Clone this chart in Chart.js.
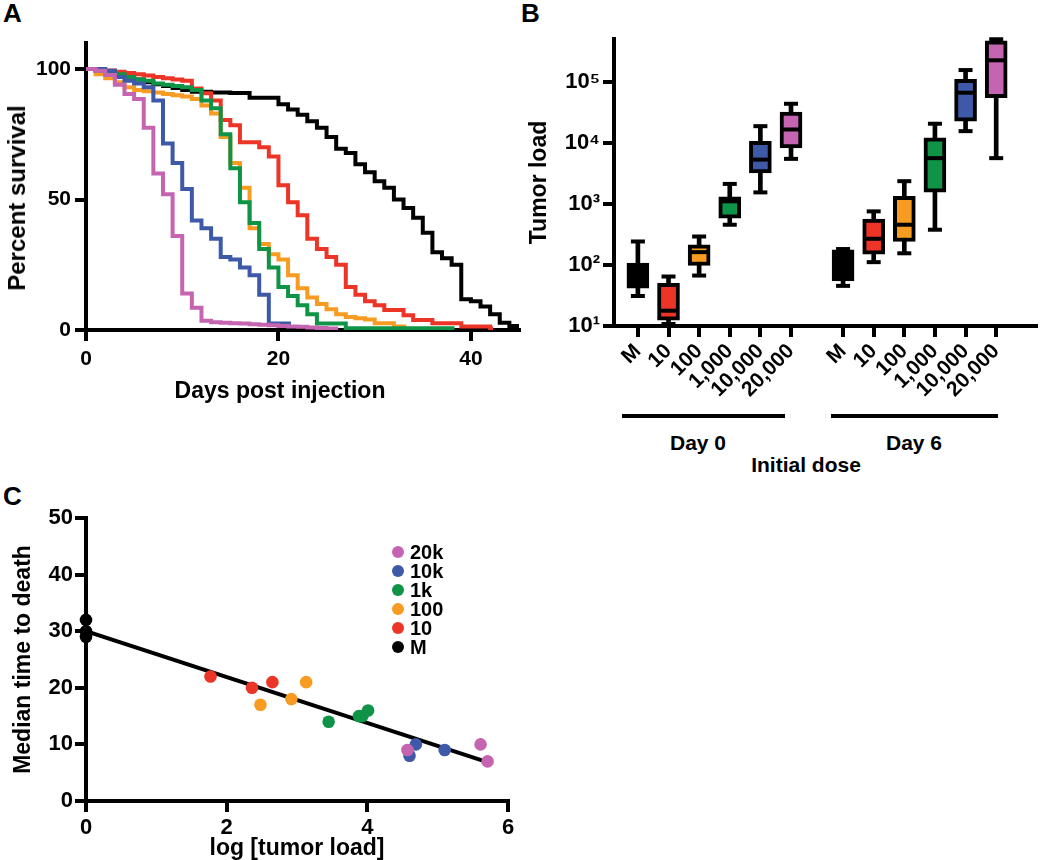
<!DOCTYPE html>
<html>
<head>
<meta charset="utf-8">
<script src="https://cdn.jsdelivr.net/npm/chart.js@4.4.0/dist/chart.umd.min.js"></script>
<style>
body { margin: 0; background: #fff; width: 1050px; height: 860px; position: relative; overflow: hidden;
       font-family: "Liberation Sans", Arial, Helvetica, sans-serif; font-weight: bold; color: #000; }
canvas { position: absolute; }
.lbl { position: absolute; line-height: 1; white-space: nowrap; }
.mid { transform: translate(-50%, -50%); }
.rot { transform: translate(-50%, -50%) rotate(-90deg); }
.bar { position: absolute; background: #000; height: 4px; }
.dot { position: absolute; width: 12px; height: 12px; border-radius: 50%; transform: translate(-50%, -50%); }
</style>
</head>
<body>
<div class="lbl" style="left:3px;top:0px;font-size:26px">A</div>
<div class="lbl" style="left:521px;top:0px;font-size:26px">B</div>
<div class="lbl" style="left:3px;top:483px;font-size:26px">C</div>

<canvas id="chartA" width="530" height="410" style="left:0;top:0"></canvas>
<canvas id="chartB" width="530" height="410" style="left:520px;top:0"></canvas>
<canvas id="chartC" width="530" height="370" style="left:0;top:490px"></canvas>

<!-- titres du panneau A, centres comme dans la figure d'origine -->
<div class="lbl rot" style="left:17px;top:198px;font-size:24px">Percent survival</div>
<div class="lbl mid" style="left:280px;top:390px;font-size:23px">Days post injection</div>

<div class="bar" style="left:622px;top:414px;width:163px"></div>
<div class="bar" style="left:831px;top:414px;width:167px"></div>
<div class="lbl mid" style="left:698px;top:442px;font-size:21px">Day 0</div>
<div class="lbl mid" style="left:914px;top:442px;font-size:21px">Day 6</div>
<div class="lbl mid" style="left:806px;top:464px;font-size:21px">Initial dose</div>
<div id="legendC"></div>

<script>
// couleurs des groupes
const black = '#000000';
const red = '#ec3526';
const orange = '#f89b22';
const green = '#0f9447';
const blue = '#3d59a8';
const mag = '#c564b1';

// --- A : survie (valeur apres les deces du jour i) ---
const dayTicks = [0, 20, 40];
const survTicks = [0, 50, 100];
const survMag = [100, 99.4, 97.7, 94, 90.5, 88.5, 77.5, 60, 52, 36, 14, 8.5, 3.5, 3, 2.8, 2.6, 2.5, 2.2, 2, 1.8, 1.5, 1.3, 1.2, 1, 0.8, 0.6, 0];
const survBlue = [100, 100, 99.4, 97, 95.5, 94.5, 93, 88, 71.5, 64, 54, 42, 39, 35, 28, 27, 24, 21, 13.5, 2.5, 2.5, 2.5];
const survGreen = [100, 99.5, 99, 98, 97, 96, 95.5, 94.5, 94, 93.5, 93, 92, 88, 85, 75, 62, 49, 41, 31, 24, 16.5, 13, 9.5, 6, 2.5, 2.5, 2.5, 0.7];
const survOrange = [100, 98, 96.5, 95, 93, 92, 91.5, 91, 90.5, 90, 89.5, 88.5, 86, 83, 74, 64, 54.5, 39, 33, 29, 27, 21, 16, 12.5, 10, 8, 6, 5, 4.5, 4, 2.6, 2.6, 1.3];
const survRed = [100, 99.5, 99.5, 99, 98.5, 98, 97.5, 97, 96.5, 96, 95.5, 92.6, 90.7, 88, 80.5, 78.5, 72, 72, 70, 66.5, 55.5, 49, 44, 35, 31, 28, 25, 16.5, 13.5, 11, 9.5, 7.7, 7.7, 5.7, 3.8, 3.8, 2.6, 2.6, 2.6, 1.3, 1.3, 1.3, 0.6];
const survM = [100, 99.5, 98.8, 98, 97, 96, 95, 94.2, 93.5, 92.8, 92, 91.3, 91.3, 91, 91, 90.8, 90.8, 89, 89, 89, 86.5, 84.5, 82.5, 80, 77.5, 74, 69.5, 67.8, 63.5, 60.5, 57, 54.5, 50, 46.8, 43, 37.3, 29.8, 27.5, 25, 11.8, 11, 9, 6, 2.8, 1.5];
const lastDay = { mag: null, blue: 21.3, green: 38.3, orange: 33.3, red: 42.3, M: 45 };

// --- B : charge tumorale (boites) ---
const posB = [1, 2, 3, 4, 5, 6, 7.7, 8.7, 9.7, 10.7, 11.7, 12.7];
const labelsB = ['M', '10', '100', '1,000', '10,000', '20,000', 'M', '10', '100', '1,000', '10,000', '20,000'];
const loadTicks = [10, 100, 1000, 10000, 100000];
const whiskLo = [31, 10.8, 67, 455, 1540, 5450, 45.4, 111, 155, 377, 15500, 5600];
const boxQ1 = [41.5, 12.5, 98, 585, 3200, 8260, 54.8, 150, 242, 1560, 22600, 54600];
const boxMed = [65, 17.8, 162, 1100, 5300, 16500, 100, 268, 455, 5600, 66000, 224000];
const boxQ3 = [107, 50, 213, 1300, 10600, 31800, 177, 563, 1330, 12000, 109000, 468000];
const whiskHi = [242, 64.6, 292, 2120, 18700, 43500, 182, 753, 2350, 20500, 155000, 495000];
const colorsB = [black, red, orange, green, blue, mag, black, red, orange, green, blue, mag];

// --- C : temps median vs log charge ---
const legendC = ['20k', '10k', '1k', '100', '10', 'M'];
const colorsC = [mag, blue, green, orange, red, black];
const logLoad = [
  [4.57, 5.61, 5.71],
  [4.60, 4.69, 5.10],
  [3.45, 3.88, 3.93, 4.01],
  [2.48, 2.92, 3.13],
  [1.77, 2.36, 2.65],
  [0, 0, 0]
];
const medianDeath = [
  [9, 10, 7],
  [8, 10, 9],
  [14, 15, 15, 16],
  [17, 18, 21],
  [22, 20, 21],
  [32, 30, 29]
];
const fitX = [0, 5.75];
const fitY = [30, 6.7];

Chart.defaults.font.family = '"Liberation Sans", Arial, Helvetica, sans-serif';
Chart.defaults.font.weight = 'bold';
Chart.defaults.color = '#000';

const gridOpts = { drawOnChartArea: false, drawTicks: true, tickLength: 11, tickWidth: 4,
                   tickColor: '#000', color: '#000', lineWidth: 4 };
const borderOpts = { display: true, color: '#000', width: 4 };
const noPlugins = { legend: { display: false }, tooltip: { enabled: false } };

function kmPoints(vals, end) {
  const pts = vals.map((v, d) => ({ x: d, y: v }));
  if (end !== null) pts.push({ x: end, y: vals[vals.length - 1] });
  return pts;
}

const seriesA = [
  { vals: survMag, end: lastDay.mag, color: mag },
  { vals: survBlue, end: lastDay.blue, color: blue },
  { vals: survGreen, end: lastDay.green, color: green },
  { vals: survOrange, end: lastDay.orange, color: orange },
  { vals: survRed, end: lastDay.red, color: red },
  { vals: survM, end: lastDay.M, color: black }
];

new Chart(document.getElementById('chartA'), {
  type: 'line',
  data: {
    datasets: seriesA.map(s => ({
      data: kmPoints(s.vals, s.end),
      borderColor: s.color,
      borderWidth: 4,
      stepped: true,
      pointRadius: 0,
      fill: false,
      borderJoinStyle: 'miter',
      borderCapStyle: 'butt'
    }))
  },
  options: {
    responsive: false,
    animation: false,
    events: [],
    layout: { padding: { top: 43, right: 11, left: 0, bottom: 0 } },
    plugins: noPlugins,
    scales: {
      x: {
        type: 'linear', min: 0, max: 45,
        afterBuildTicks: ax => { ax.ticks = dayTicks.map(v => ({ value: v })); },
        afterFit: ax => { ax.height = 80; },
        grid: gridOpts, border: borderOpts,
        ticks: { font: { size: 21 }, padding: 6, maxRotation: 0 }
      },
      y: {
        type: 'linear', min: 0, max: 110,
        afterBuildTicks: ax => { ax.ticks = survTicks.map(v => ({ value: v })); },
        afterFit: ax => { ax.width = 86; },
        grid: gridOpts, border: borderOpts,
        ticks: { font: { size: 21 }, padding: 4 }
      }
    }
  }
});

const sup = ['\u2070', '\u00b9', '\u00b2', '\u00b3', '\u2074', '\u2075'];

new Chart(document.getElementById('chartB'), {
  type: 'bar',
  data: {
    datasets: [
      {
        type: 'scatter', order: 0, clip: false,
        data: posB.map((x, i) => ({ x: x, y: boxMed[i] })),
        pointStyle: 'line', pointRadius: 10, pointBorderWidth: 4,
        pointBorderColor: '#000', pointBackgroundColor: '#000', borderColor: '#000'
      },
      {
        type: 'scatter', order: 0, clip: false,
        data: posB.map((x, i) => ({ x: x, y: whiskLo[i] })).concat(posB.map((x, i) => ({ x: x, y: whiskHi[i] }))),
        pointStyle: 'line', pointRadius: 7, pointBorderWidth: 4,
        pointBorderColor: '#000', pointBackgroundColor: '#000', borderColor: '#000'
      },
      {
        type: 'bar', order: 1, grouped: false,
        data: posB.map((x, i) => ({ x: x, y: [boxQ1[i], boxQ3[i]] })),
        backgroundColor: colorsB, borderColor: '#000', borderWidth: 4,
        borderSkipped: false, barThickness: 22
      },
      {
        type: 'bar', order: 2, grouped: false,
        data: posB.map((x, i) => ({ x: x, y: [whiskLo[i], whiskHi[i]] })),
        backgroundColor: '#000', borderWidth: 0, barThickness: 4
      }
    ]
  },
  options: {
    responsive: false,
    animation: false,
    events: [],
    layout: { padding: { top: 39, right: 4, left: 0, bottom: 0 } },
    plugins: noPlugins,
    scales: {
      x: {
        type: 'linear', min: 0.22, max: 14, offset: false,
        afterBuildTicks: ax => { ax.ticks = posB.map(v => ({ value: v })); },
        afterFit: ax => { ax.height = 84; },
        grid: Object.assign({}, gridOpts, { offset: false }), border: borderOpts,
        ticks: { font: { size: 21 }, padding: 2, autoSkip: false, maxRotation: 45, minRotation: 45,
                 callback: (v, i) => labelsB[i] }
      },
      y: {
        type: 'logarithmic', min: 10, max: 500000,
        afterBuildTicks: ax => { ax.ticks = loadTicks.map(v => ({ value: v })); },
        afterFit: ax => { ax.width = 94; },
        grid: gridOpts, border: borderOpts,
        ticks: { font: { size: 22 }, padding: 3,
                 callback: v => '10' + sup[Math.round(Math.log10(v))] },
        title: { display: true, text: 'Tumor load', font: { size: 23 }, padding: { top: 6, bottom: 0 } }
      }
    }
  }
});

const datasetsC = legendC.map((name, g) => ({
  type: 'scatter', label: name, clip: false,
  data: logLoad[g].map((x, i) => ({ x: x, y: medianDeath[g][i] })),
  pointRadius: 6.3, pointBorderWidth: 0,
  pointBackgroundColor: colorsC[g], backgroundColor: colorsC[g], borderColor: colorsC[g]
}));
datasetsC.push({
  type: 'line', label: 'fit',
  data: fitX.map((x, i) => ({ x: x, y: fitY[i] })),
  borderColor: '#000', borderWidth: 4, pointRadius: 0, fill: false
});

new Chart(document.getElementById('chartC'), {
  type: 'scatter',
  data: { datasets: datasetsC },
  options: {
    responsive: false,
    animation: false,
    events: [],
    layout: { padding: { top: 28, right: 22, left: 0, bottom: 0 } },
    plugins: noPlugins,
    scales: {
      x: {
        type: 'linear', min: 0, max: 6,
        afterFit: ax => { ax.height = 59; },
        grid: gridOpts, border: borderOpts,
        ticks: { font: { size: 22 }, padding: 3, stepSize: 2, maxRotation: 0 },
        title: { display: true, text: 'log [tumor load]', font: { size: 23, lineHeight: 1 }, padding: { top: 0, bottom: 0 } }
      },
      y: {
        type: 'linear', min: 0, max: 50,
        afterFit: ax => { ax.width = 86; },
        grid: gridOpts, border: borderOpts,
        ticks: { font: { size: 22 }, padding: 2, stepSize: 10 },
        title: { display: true, text: 'Median time to death', font: { size: 23 }, padding: { top: 10, bottom: 0 } }
      }
    }
  }
});

// legende C en HTML, dans la zone du graphique
const legendY = [552, 571, 590, 609, 628, 647];
const leg = document.getElementById('legendC');
legendC.forEach((name, g) => {
  const d = document.createElement('div');
  d.className = 'dot';
  d.style.left = '398px';
  d.style.top = legendY[g] + 'px';
  d.style.background = colorsC[g];
  leg.appendChild(d);
  const t = document.createElement('div');
  t.className = 'lbl';
  t.style.left = '410px';
  t.style.top = (legendY[g] - 10) + 'px';
  t.style.fontSize = '20px';
  t.textContent = name;
  leg.appendChild(t);
});
</script>
</body>
</html>
